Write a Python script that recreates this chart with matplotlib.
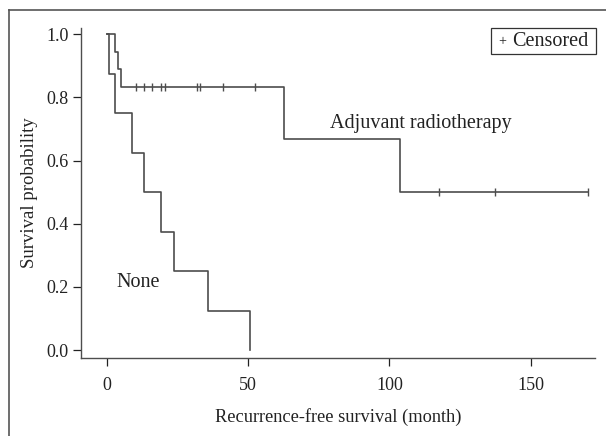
import matplotlib.pyplot as plt
from matplotlib.lines import Line2D
from matplotlib.patches import Rectangle

plt.rcParams['font.family'] = ['Liberation Serif', 'DejaVu Serif']

# Kaplan-Meier step data (time in months, survival probability)
adj_time = [0, 2.8, 3.9, 4.9, 62.7, 103.7, 170.3]
adj_surv = [1.0, 0.944, 0.889, 0.833, 0.667, 0.5, 0.5]
adj_cens_time = [10.2, 13.2, 16.1, 19.1, 20.6, 32.0, 32.9, 41.0, 52.6, 117.5, 137.3, 170.2]
adj_cens_surv = [0.833] * 9 + [0.5] * 3

none_time = [0, 0.8, 2.8, 8.8, 13.2, 19.1, 23.7, 35.9, 50.8]
none_surv = [1.0, 0.875, 0.75, 0.625, 0.5, 0.375, 0.25, 0.125, 0.0]

xticks = [0, 50, 100, 150]
yticks = [0.0, 0.2, 0.4, 0.6, 0.8, 1.0]

col = '#4d4d4d'
txt = '#222222'
fig = plt.figure(figsize=(6.06, 4.36), dpi=100)
ax = fig.add_axes([0.1337, 0.179, 0.848, 0.757])

ax.step(adj_time, adj_surv, where='post', color=col, linewidth=1.2)
ax.step(none_time, none_surv, where='post', color=col, linewidth=1.2)
ax.plot(adj_cens_time, adj_cens_surv, linestyle='none', marker='|',
        markersize=6, color=col, markeredgewidth=1.0)

ax.set_xlim(-9.1, 172.7)
ax.set_ylim(-0.025, 1.02)
ax.set_xticks(xticks)
ax.set_yticks(yticks)
ax.set_yticklabels([f'{v:.1f}' for v in yticks])
for s in ['top', 'right']:
    ax.spines[s].set_visible(False)
for s in ['left', 'bottom']:
    ax.spines[s].set_color(col)
    ax.spines[s].set_linewidth(1.0)
ax.tick_params(colors=txt, labelsize=13, length=6, width=0.9, direction='out')
ax.tick_params(axis='x', pad=8)
ax.tick_params(axis='y', pad=3)

ax.set_xlabel('Recurrence-free survival (month)', fontsize=13.2, color=txt, labelpad=10)
ax.set_ylabel('Survival probability', fontsize=13.5, color=txt, labelpad=6)

ax.text(79, 0.716, 'Adjuvant radiotherapy', fontsize=14.5, color=txt, va='center')
ax.text(3.5, 0.215, 'None', fontsize=14.5, color=txt, va='center')

# censored legend box
ax.add_patch(Rectangle((0.798, 0.921), 0.204, 0.079, transform=ax.transAxes,
                       facecolor='white', edgecolor='#333333', linewidth=0.9, clip_on=False))
ax.text(0.8195, 0.9595, '+', transform=ax.transAxes, fontsize=10, color=txt,
        ha='center', va='center')
ax.text(0.839, 0.958, 'Censored', transform=ax.transAxes, fontsize=14.5, color=txt,
        ha='left', va='center')

# outer frame (left and top edges only)
fig.add_artist(Line2D([9 / 606, 9 / 606], [0, 1 - 10 / 436], color='#555555', linewidth=1.2))
fig.add_artist(Line2D([9 / 606, 1], [1 - 10 / 436, 1 - 10 / 436], color='#555555', linewidth=1.2))

plt.savefig('out.png', dpi=100)
